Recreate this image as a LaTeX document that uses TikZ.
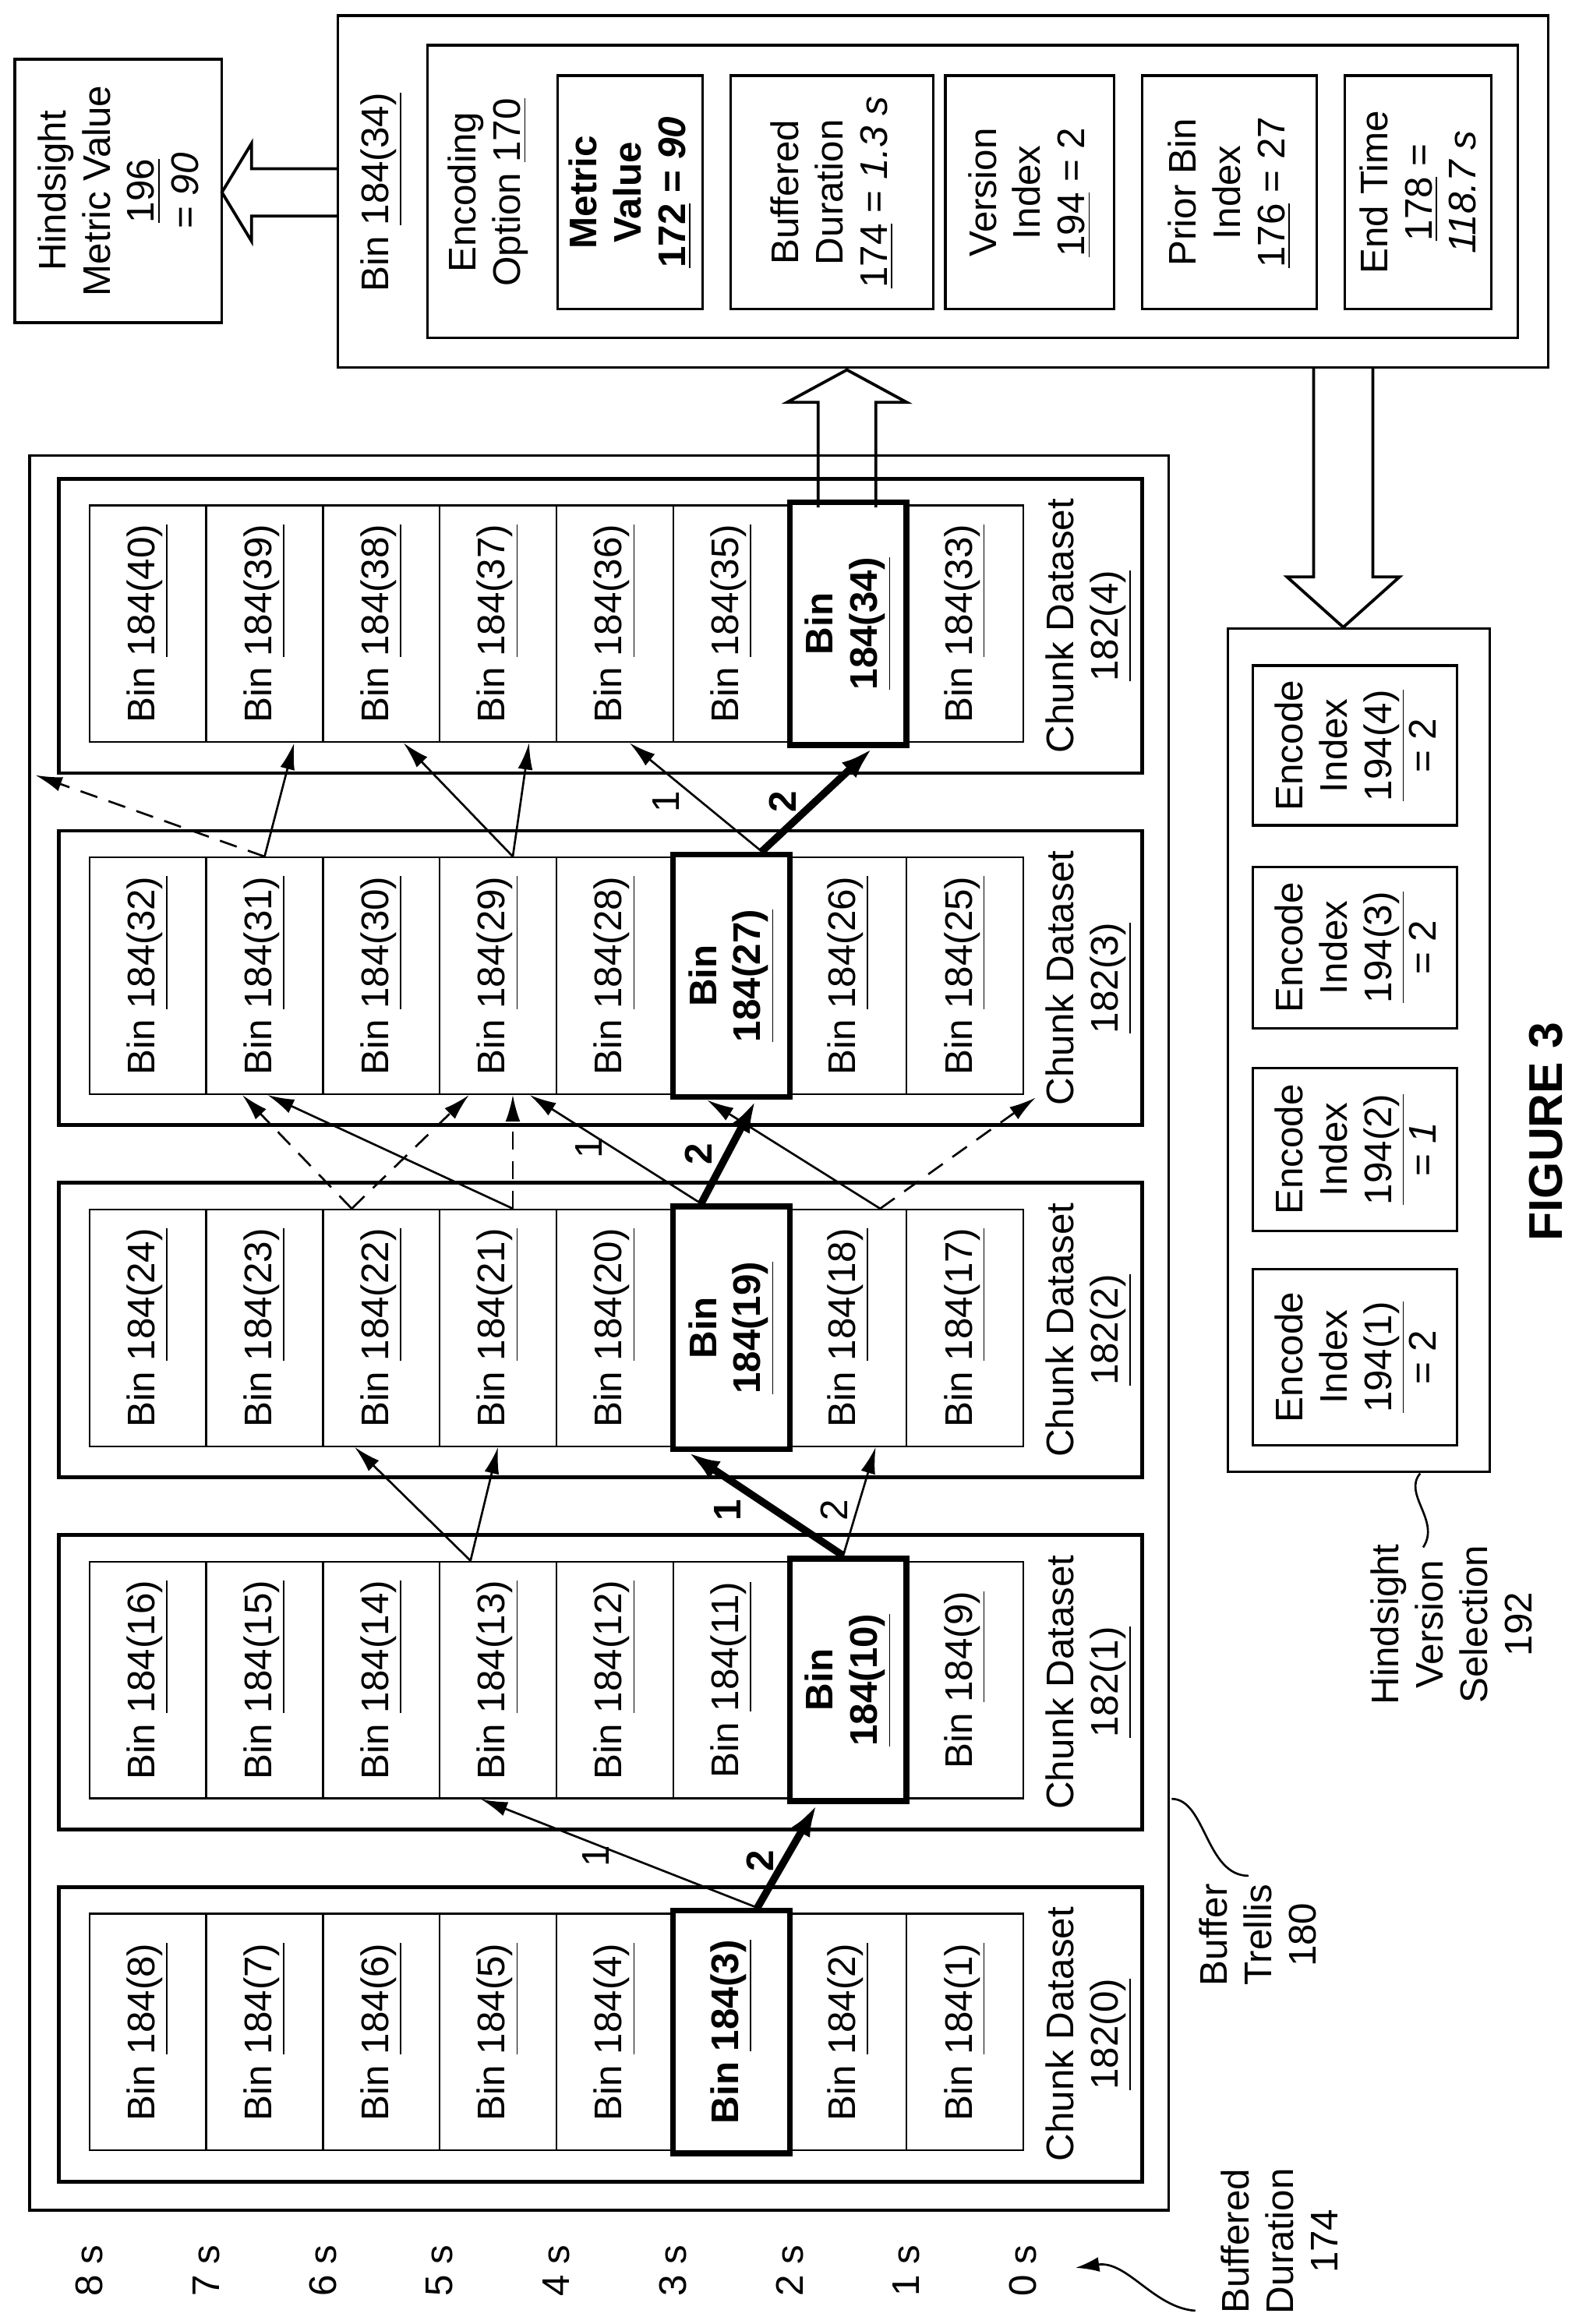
\documentclass[tikz,border=0pt]{standalone}
\usepackage{fontspec}
\setmainfont{Liberation Sans}
\usetikzlibrary{arrows.meta,calc}
\begin{document}
\begin{tikzpicture}[x=0.5pt,y=-0.5pt, font=\fontsize{13}{15}\selectfont,
 bin/.style={draw, line width=0.6pt, rotate=90, minimum width=80pt, minimum height=39.45pt, inner sep=0pt, align=center},
 hbin/.style={bin, line width=2pt, minimum width=82pt, font=\fontsize{13}{15}\selectfont\bfseries},
 chunk/.style={draw, line width=1.3pt, minimum width=366pt, minimum height=99.5pt, inner sep=0pt},
 lbl/.style={rotate=90, align=center, inner sep=1pt},
 arr/.style={-{Latex[length=9pt,width=5pt]}, line width=0.7pt},
 darr/.style={arr, dash pattern=on 6pt off 4pt},
 tarr/.style={-{Latex[length=11pt,width=7pt]}, line width=2.5pt},
 box/.style={draw, line width=0.9pt, inner sep=0pt},
 ibox/.style={box, rotate=90, align=center},
 hollow/.style={line width=1pt, line join=miter},
]
\useasboundingbox (0,0) rectangle (1067,1571);
% trellis
\node[box, minimum width=385pt, minimum height=593pt] (trellis) at (405,901) {};
\foreach \c in {0,...,4}{
  \pgfmathsetmacro\T{1275.6-238*\c}
  \node[chunk] (c\c) at (406,\T+99.5) {};
  \node[lbl] (cl\c) at (736,\T+99.5) {Chunk Dataset\\\underline{182(\c)}};
  \foreach \p in {0,...,7}{
    \pgfmathtruncatemacro\n{8*\c+8-\p}
    \pgfmathtruncatemacro\h{(\n==3)||(\n==10)||(\n==19)||(\n==27)||(\n==34)}
    \ifnum\h=0
      \node[bin] (b\n) at (99.95+78.9*\p,\T+98) {Bin \underline{184(\n)}};
    \fi
  }
}
\node[hbin] (b3) at (494.45,1373.6) {Bin \underline{184(3)}};
\node[hbin] (b10) at (573.35,1135.6) {Bin\\\underline{184(10)}};
\node[hbin] (b19) at (494.45,897.6) {Bin\\\underline{184(19)}};
\node[hbin] (b27) at (494.45,659.6) {Bin\\\underline{184(27)}};
\node[hbin] (b34) at (573.35,421.6) {Bin\\\underline{184(34)}};
% c0 -> c1
\draw[tarr] ($(b3.east)+(17.5,0)$) -- ($(b10.west)+(-21,0)$);
\draw[arr] ($(b3.east)+(17.5,0)$) -- ($(b13.west)+(-11.6,0)$);
\node[lbl,font=\fontsize{13}{15}\selectfont\bfseries] at (514,1258) {2};
\node[lbl] at (403,1255) {1};
% c1 -> c2
\draw[tarr] ($(b10.east)+(-3.4,0)$) -- ($(b19.west)+(-29.5,0)$);
\draw[arr] ($(b10.east)+(-3.4,0)$) -- ($(b18.west)+(18.6,0)$);
\draw[arr] ($(b13.east)+(-18.6,0)$) -- ($(b22.west)+(-18,0)$);
\draw[arr] ($(b13.east)+(-18.6,0)$) -- ($(b21.west)+(0,0)$);
\node[lbl,font=\fontsize{13}{15}\selectfont\bfseries] at (492,1021) {1};
\node[lbl] at (564,1021) {2};
% c2 -> c3
\coordinate (e1) at (700,742);
\draw[darr] ($(b22.east)+(-20,0)$) -- ($(b31.west)+(-15,0)$);
\draw[darr] ($(b22.east)+(-20,0)$) -- ($(b29.west)+(-19.6,0)$);
\draw[arr] ($(b21.east)+(10,0)$) -- ($(b31.west)+(2,0)$);
\draw[darr] ($(b21.east)+(10,0)$) -- ($(b29.west)+(10,0)$);
\draw[arr] ($(b19.east)+(-20.5,0)$) -- ($(b29.west)+(21.4,0)$);
\draw[tarr] ($(b19.east)+(-20.5,0)$) -- ($(b27.west)+(16.5,0)$);
\draw[arr] ($(b18.east)+(21.6,0)$) -- ($(b27.west)+(-16.5,0)$);
\draw[darr] ($(b18.east)+(21.6,0)$) -- (e1);
\node[lbl] at (398,776) {1};
\node[lbl,font=\fontsize{13}{15}\selectfont\bfseries] at (472,780) {2};
% c3 -> c4
\coordinate (e2) at (24,524);
\draw[darr] (b31.east) -- (e2);
\draw[arr] (b31.east) -- ($(b39.west)+(20,0)$);
\draw[arr] ($(b29.east)+(10,0)$) -- ($(b38.west)+(15,0)$);
\draw[arr] ($(b29.east)+(10,0)$) -- ($(b37.west)+(21,0)$);
\draw[arr] ($(b27.east)+(20.5,0)$) -- ($(b36.west)+(10,0)$);
\draw[tarr] ($(b27.east)+(20.5,0)$) -- ($(b34.west)+(16.6,0)$);
\node[lbl] at (450,542) {1};
\node[lbl,font=\fontsize{13}{15}\selectfont\bfseries] at (529,542) {2};
% time axis
\foreach \k in {0,...,8}{
  \node[lbl] (t\k) at (60.5+78.9*8-78.9*\k,1535) {\k\ s};
}
\draw[-{Latex[length=8pt,width=5pt]}, line width=0.7pt] (808,1562) .. controls (780,1560) and (762,1528) .. (727,1533);
\node[lbl] (bd) at (865,1515) {Buffered\\Duration\\174};
\draw[line width=0.7pt] (792,1216) .. controls (815,1216) and (815,1268) .. (844,1268);
\node[lbl] (bt) at (850,1308) {Buffer\\Trellis\\180};
% top box
\node[box, minimum width=409pt, minimum height=119pt] (top) at (637.5,129.5) {};
\node[lbl] (topl) at (258,130) {Bin \underline{184(34)}};
\node[box, minimum width=368.5pt, minimum height=99pt] (enc) at (657.5,129.5) {};
\node[lbl] (encl) at (330,130) {Encoding\\Option \underline{170}};
\node[ibox, minimum width=79pt, minimum height=49pt, font=\fontsize{13}{15}\selectfont\bfseries] (mv) at (426,130) {Metric\\Value\\\underline{172} = \textit{90}};
\node[ibox, minimum width=79pt, minimum height=68.5pt] (bdv) at (562.5,130) {Buffered\\Duration\\\underline{174} = \textit{1.3 s}};
\node[ibox, minimum width=79pt, minimum height=57pt] (vi) at (696,130) {Version\\Index\\\underline{194} = 2};
\node[ibox, minimum width=79pt, minimum height=59pt] (pb) at (831,130) {Prior Bin\\Index\\\underline{176} = 27};
\node[ibox, minimum width=79pt, minimum height=49.5pt] (et) at (958.5,130) {End Time\\\underline{178} =\\\textit{118.7 s}};
% hindsight metric
\node[box, minimum width=70pt, minimum height=89pt] (hm) at (80,129) {};
\node[lbl] at (80,129) {Hindsight\\Metric Value\\\underline{196}\\= \textit{90}};
\draw[hollow] (228,114)--(170,114)--(170,97)--(150,130)--(170,163)--(170,146)--(228,146);
% up arrow
\draw[hollow] (553,343)--(553,272)--(532,272)--(572.5,250)--(613,272)--(592,272)--(592,343);
% down arrow
\draw[hollow] (888,249)--(888,390)--(870,390)--(908,424)--(946,390)--(928,390)--(928,249);
% hindsight version selection
\node[box, minimum width=88.5pt, minimum height=285pt] (hv) at (918.5,710) {};
\node[ibox, minimum width=54pt, minimum height=69pt] (e4) at (916,504) {Encode\\Index\\\underline{194(4)}\\= 2};
\node[ibox, minimum width=54.5pt, minimum height=69pt] (e3) at (916,640.5) {Encode\\Index\\\underline{194(3)}\\= 2};
\node[ibox, minimum width=55pt, minimum height=69pt] (e2b) at (916,777) {Encode\\Index\\\underline{194(2)}\\= \textit{1}};
\node[ibox, minimum width=59.5pt, minimum height=69pt] (e1b) at (916,917.5) {Encode\\Index\\\underline{194(1)}\\= 2};
\draw[line width=0.7pt] (960,996) .. controls (948,1010) and (974,1028) .. (962,1046);
\node[lbl] (hvl) at (981,1098) {Hindsight\\Version\\Selection\\192};
\node[lbl, font=\fontsize{16}{18}\selectfont\bfseries] (fig) at (1045,765) {FIGURE 3};
\end{tikzpicture}
\end{document}
